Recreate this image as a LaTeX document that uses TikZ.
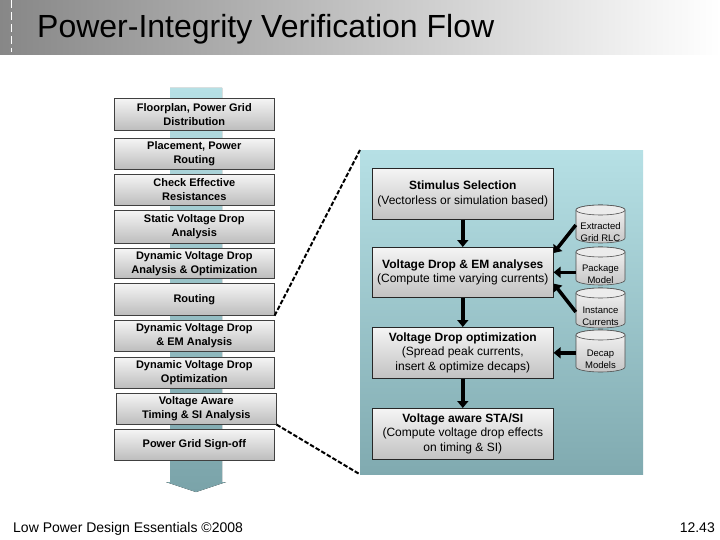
\documentclass[tikz,border=0pt]{standalone}
\usepackage{fontspec}
\setmainfont{Liberation Sans}
\usetikzlibrary{arrows.meta,calc}
\definecolor{panelTop}{RGB}{182,224,229}
\definecolor{panelBot}{RGB}{128,170,176}
\definecolor{arrowTop}{RGB}{182,224,229}
\definecolor{arrowBot}{RGB}{122,163,169}
\newcommand\drawcyl[3]{%
  \path[cylbody] (#1-24.5,#2) -- (#1-24.5,#3)
     arc[start angle=180,end angle=360,x radius=24.5pt,y radius=5pt]
     -- (#1+24.5,#2)
     arc[start angle=0,end angle=180,x radius=24.5pt,y radius=5pt] -- cycle;
  \draw[cyltop] (#1,#2) ellipse[x radius=24.5pt,y radius=5pt];
}
\begin{document}
\begin{tikzpicture}[x=1pt,y=-1pt,
  flowbox/.style={draw=black!75, line width=0.6pt, top color=gray!8, bottom color=gray!52,
    minimum width=160pt, minimum height=31pt, anchor=north west, inner sep=1pt, align=center,
    font=\bfseries\fontsize{11}{14}\selectfont},
  rbox/.style={draw=black!85, line width=0.6pt, top color=gray!8, bottom color=gray!48,
    minimum width=181pt, minimum height=51pt, anchor=north west, inner sep=1pt, align=center,
    font=\fontsize{12}{14.5}\selectfont},
  cylbody/.style={draw=black!70, line width=0.6pt, top color=gray!8, bottom color=gray!45},
  cyltop/.style={draw=black!70, line width=0.6pt, fill=gray!15},
  cyltext/.style={minimum width=49pt, minimum height=26pt, inner sep=0pt, align=center,
    font=\fontsize{9.5}{12}\selectfont},
  bigarrow/.style={line width=4pt, -{Triangle[length=7pt,width=11pt]}},
  dashline/.style={line width=2pt, dash pattern=on 4.5pt off 2pt, black}
]
\useasboundingbox (0,0) rectangle (720,540);
\fill[white] (0,0) rectangle (720,540);
% title bar
\fill[left color=black!47, right color=white] (0,0) rectangle (720,55);
\draw[white, line width=1pt, dash pattern=on 8pt off 4pt] (11,0) -- (11,52);
\node[anchor=base west, inner sep=0pt, font=\fontsize{32}{36}\selectfont] (title) at (37,38) {Power-Integrity Verification Flow};

% big flow arrow
\fill[top color=arrowTop, bottom color=arrowBot] (170,88) -- (222,88) -- (222,482) -- (226,482)
  -- (196,492) -- (166,482) -- (170,482) -- cycle;

% left flow boxes
\node[flowbox, minimum height=32pt] (b1) at (114,98) {Floorplan, Power Grid\\Distribution};
\node[flowbox] (b2) at (114,138) {Placement, Power\\Routing};
\node[flowbox] (b3) at (114,174) {Check Effective\\Resistances};
\node[flowbox, minimum height=33pt] (b4) at (114,210) {Static Voltage Drop\\Analysis};
\node[flowbox, minimum height=30pt] (b5) at (114,248) {Dynamic Voltage Drop\\Analysis \& Optimization};
\node[flowbox, minimum height=32pt] (rout) at (114,283) {Routing};
\node[flowbox] (b7) at (114,320) {Dynamic Voltage Drop\\\& EM Analysis};
\node[flowbox] (b8) at (114,357) {Dynamic Voltage Drop\\Optimization};
\node[flowbox] (vat) at (116,393) {Voltage Aware\\Timing \& SI Analysis};
\node[flowbox] (b10) at (114,429) {Power Grid Sign-off};

% right panel
\node[anchor=north west, minimum width=283pt, minimum height=324pt, inner sep=0pt,
  top color=panelTop, bottom color=panelBot] (panel) at (360,150) {};

\draw[dashline] (rout.south east) -- (panel.north west);
\draw[dashline] (vat.south east) -- (panel.south west);

\node[rbox] (stim) at (372,168) {{\bfseries Stimulus Selection}\\(Vectorless or simulation based)};
\node[rbox, minimum height=50pt] (vdem) at (372,247) {{\bfseries Voltage Drop \& EM analyses}\\(Compute time varying currents)};
\node[rbox] (vdopt) at (372,327) {{\bfseries Voltage Drop optimization}\\(Spread peak currents,\\insert \& optimize decaps)};
\node[rbox] (sta) at (372,408) {{\bfseries Voltage aware STA/SI}\\(Compute voltage drop effects\\on timing \& SI)};

\draw[bigarrow] (stim.south) -- (vdem.north);
\draw[bigarrow] (vdem.south) -- (vdopt.north);
\draw[bigarrow] (vdopt.south) -- (sta.north);

% cylinders
\drawcyl{600.5}{210}{238}
\drawcyl{600.5}{252}{280}
\drawcyl{600.5}{293}{323}
\drawcyl{600.5}{335}{367}
\node[cyltext] (c1) at (600.5,232) {Extracted\\Grid RLC};
\node[cyltext] (c2) at (600.5,274.5) {Package\\Model};
\node[cyltext] (c3) at (600.5,316.5) {Instance\\Currents};
\node[cyltext] (c4) at (600.5,359) {Decap\\Models};

\draw[bigarrow, line width=3.5pt] ($(c1.west)+(0,-7)$) -- ($(vdem.north east)+(0,6)$);
\draw[bigarrow, line width=3.5pt] (c2.west |- vdem.east) -- (vdem.east);
\draw[bigarrow, line width=3.5pt] ($(c3.west)+(0,-4.5)$) -- ($(vdem.south east)+(0,-14)$);
\draw[bigarrow, line width=3.5pt] (c4.west |- vdopt.east) -- (vdopt.east);

% footer
\node[anchor=base west, inner sep=0pt, font=\fontsize{14}{16}\selectfont] (foot) at (13,532) {Low Power Design Essentials ©2008};
\node[anchor=base east, inner sep=0pt, font=\fontsize{14}{16}\selectfont] (pg) at (715,532) {12.43};
\end{tikzpicture}
\end{document}
